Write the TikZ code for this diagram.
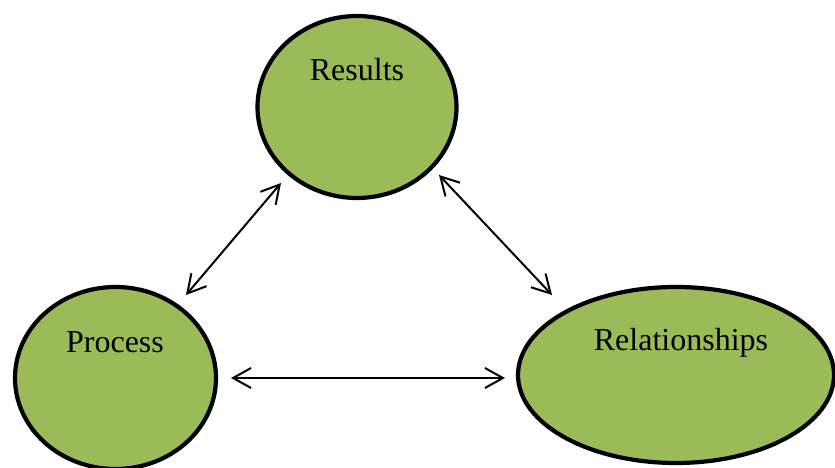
\documentclass[tikz,border=0pt]{standalone}
\usepackage{fontspec}
\setmainfont{Liberation Serif}
\usetikzlibrary{shapes.geometric,arrows.meta}

\definecolor{olivegreen}{HTML}{9BBB59}

\tikzset{
    blob/.style={ellipse, draw=black, line width=4.2pt, fill=olivegreen, inner sep=0pt},
    blobtext/.style={anchor=base, font=\fontsize{32}{36}\selectfont},
    biarrow/.style={{Straight Barb[length=18pt,width=20pt]}-{Straight Barb[length=18pt,width=20pt]}, line width=2pt}
}

\begin{document}
\begin{tikzpicture}[x=1pt, y=1pt]
        \useasboundingbox (0,0) rectangle (835,468);

        % the three circles
        \node[blob, minimum width=199pt, minimum height=182pt] (res) at (357,361) {};
        \node[blob, minimum width=201pt, minimum height=182pt] (proc) at (115.5,90) {};
        \node[blob, minimum width=316pt, minimum height=176pt] (rel) at (676,93) {};

        \node[blobtext] (resT) at (357,387) {Results};
        \node[blobtext] (procT) at (115,115) {Process};
        \node[blobtext] (relT) at (681,117) {Relationships};

        % arrow ends
        \coordinate (resL) at (281,285);
        \coordinate (procR) at (186,173);
        \coordinate (resR) at (439,293);
        \coordinate (relL) at (552,173);
        \coordinate (procE) at (231,90);
        \coordinate (relW) at (505,90);

        \draw[biarrow] (resL) -- (procR);
        \draw[biarrow] (resR) -- (relL);
        \draw[biarrow] (procE) -- (relW);

    \end{tikzpicture}
\end{document}
